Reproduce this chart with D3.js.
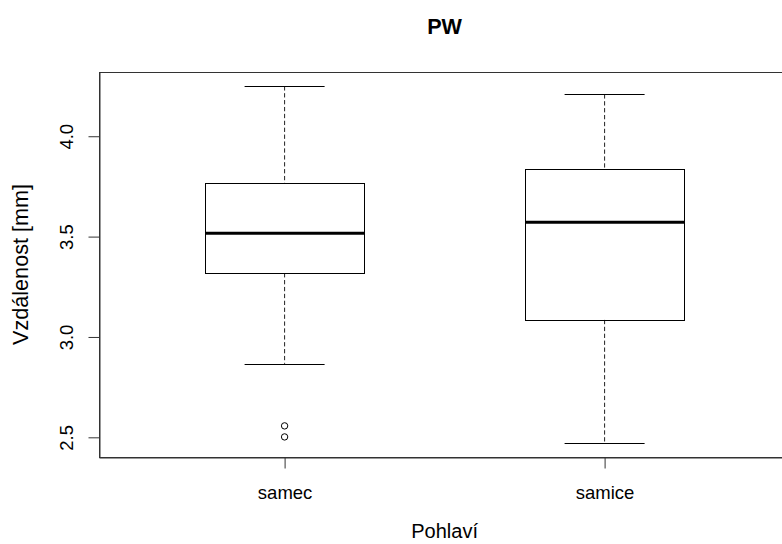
<!DOCTYPE html>
<html>
<head>
<meta charset="utf-8">
<script src="https://cdn.jsdelivr.net/npm/d3@7"></script>
<style>
  html, body { margin: 0; padding: 0; background: #fff; }
  svg { display: block; }
  text { font-family: "Liberation Sans", Arial, sans-serif; fill: #000; }
</style>
</head>
<body>
<svg id="chart" width="782" height="544"></svg>
<script>
// Box-plot summary for PW by sex
const categories = ["samec", "samice"];
const lowerWhisker = [2.866, 2.473];
const q1 = [3.318, 3.085];
const median = [3.517, 3.572];
const q3 = [3.766, 3.836];
const upperWhisker = [4.249, 4.209];
const outliers = [[2.557, 2.502], []];
const yTicks = [2.5, 3.0, 3.5, 4.0];

const plotLeft = 99, plotTop = 72, plotBottom = 457;
const unitPx = 320; // px per category step

const svg = d3.select("#chart");

// y domain: data range padded by 4% on each side
const allVals = lowerWhisker.concat(upperWhisker, outliers.flat());
const yLo = d3.min(allVals), yHi = d3.max(allVals);
const yPad = (yHi - yLo) * 0.04;
const y = d3.scaleLinear().domain([yLo - yPad, yHi + yPad]).range([plotBottom, plotTop]);

// x domain: [0.5, n + 0.5] padded by 4%
const xLo = 0.5, xHi = categories.length + 0.5;
const xPad = (xHi - xLo) * 0.04;
const xDom = [xLo - xPad, xHi + xPad];
const x = d3.scaleLinear().domain(xDom).range([plotLeft, plotLeft + (xDom[1] - xDom[0]) * unitPx]);
const plotRight = x(xDom[1]);

const boxHalf = 0.2485, capHalf = 0.125;
const dash = "4.3,2.6";

const g = svg.append("g");

categories.forEach((c, i) => {
  const cx = x(i + 1);
  const gb = g.append("g");
  // whiskers
  gb.append("line").attr("x1", cx).attr("x2", cx)
    .attr("y1", y(upperWhisker[i])).attr("y2", y(q3[i]))
    .attr("stroke", "#222").attr("stroke-width", 1).attr("stroke-dasharray", dash);
  gb.append("line").attr("x1", cx).attr("x2", cx)
    .attr("y1", y(q1[i])).attr("y2", y(lowerWhisker[i]))
    .attr("stroke", "#222").attr("stroke-width", 1).attr("stroke-dasharray", dash);
  // staples
  [upperWhisker[i], lowerWhisker[i]].forEach(v => {
    gb.append("line")
      .attr("x1", x(i + 1 - capHalf)).attr("x2", x(i + 1 + capHalf))
      .attr("y1", Math.round(y(v)) + 0.5).attr("y2", Math.round(y(v)) + 0.5)
      .attr("stroke", "#000").attr("stroke-width", 1);
  });
  // box
  gb.append("rect")
    .attr("x", Math.round(x(i + 1 - boxHalf)) + 0.5)
    .attr("y", Math.round(y(q3[i])) + 0.5)
    .attr("width", Math.round(x(i + 1 + boxHalf)) - Math.round(x(i + 1 - boxHalf)))
    .attr("height", Math.round(y(q1[i])) - Math.round(y(q3[i])))
    .attr("fill", "none").attr("stroke", "#000").attr("stroke-width", 1);
  // median
  gb.append("line")
    .attr("x1", x(i + 1 - boxHalf)).attr("x2", x(i + 1 + boxHalf))
    .attr("y1", y(median[i])).attr("y2", y(median[i]))
    .attr("stroke", "#000").attr("stroke-width", 3);
  // outliers
  gb.selectAll("circle").data(outliers[i]).join("circle")
    .attr("cx", cx).attr("cy", d => y(d)).attr("r", 3.2)
    .attr("fill", "none").attr("stroke", "#000").attr("stroke-width", 1);
});

// frame
g.append("rect")
  .attr("x", plotLeft + 0.5).attr("y", plotTop + 0.5)
  .attr("width", plotRight - plotLeft).attr("height", plotBottom - plotTop)
  .attr("fill", "none").attr("stroke", "#333").attr("stroke-width", 1);

// y axis
const yAxis = d3.axisLeft(y).tickValues(yTicks).tickFormat(d3.format(".1f"))
  .tickSizeInner(11).tickSizeOuter(0).tickPadding(0);
const ya = svg.append("g").attr("transform", `translate(${plotLeft + 0.5},0)`).call(yAxis);
ya.select(".domain").attr("stroke", "#333");
ya.selectAll(".tick line").attr("stroke", "#333");
ya.selectAll(".tick text")
  .attr("x", null).attr("dy", null)
  .attr("transform", "translate(-27,0) rotate(-90)")
  .attr("text-anchor", "middle")
  .style("font-size", "18.5px").style("font-family", "'Liberation Sans', Arial, sans-serif");

// x axis
const xAxis = d3.axisBottom(x).tickValues(categories.map((c, i) => i + 1))
  .tickFormat((d) => categories[d - 1]).tickSizeInner(11).tickSizeOuter(0).tickPadding(0);
const xa = svg.append("g").attr("transform", `translate(0,${plotBottom + 0.5})`).call(xAxis);
xa.select(".domain").attr("stroke", "#333");
xa.selectAll(".tick line").attr("stroke", "#333");
xa.selectAll(".tick text")
  .attr("y", 41).attr("dy", null)
  .style("font-size", "18.5px").style("font-family", "'Liberation Sans', Arial, sans-serif");

// titles
const midX = (plotLeft + plotRight) / 2;
svg.append("text").attr("x", midX).attr("y", 34).attr("text-anchor", "middle")
  .style("font-size", "21.6px").style("font-weight", "bold").text("PW");
svg.append("text").attr("x", midX).attr("y", 538).attr("text-anchor", "middle")
  .style("font-size", "20px").text("Pohlaví");
svg.append("text")
  .attr("transform", `translate(28,${(plotTop + plotBottom) / 2}) rotate(-90)`)
  .attr("text-anchor", "middle")
  .style("font-size", "21.6px").text("Vzdálenost [mm]");
</script>
</body>
</html>
